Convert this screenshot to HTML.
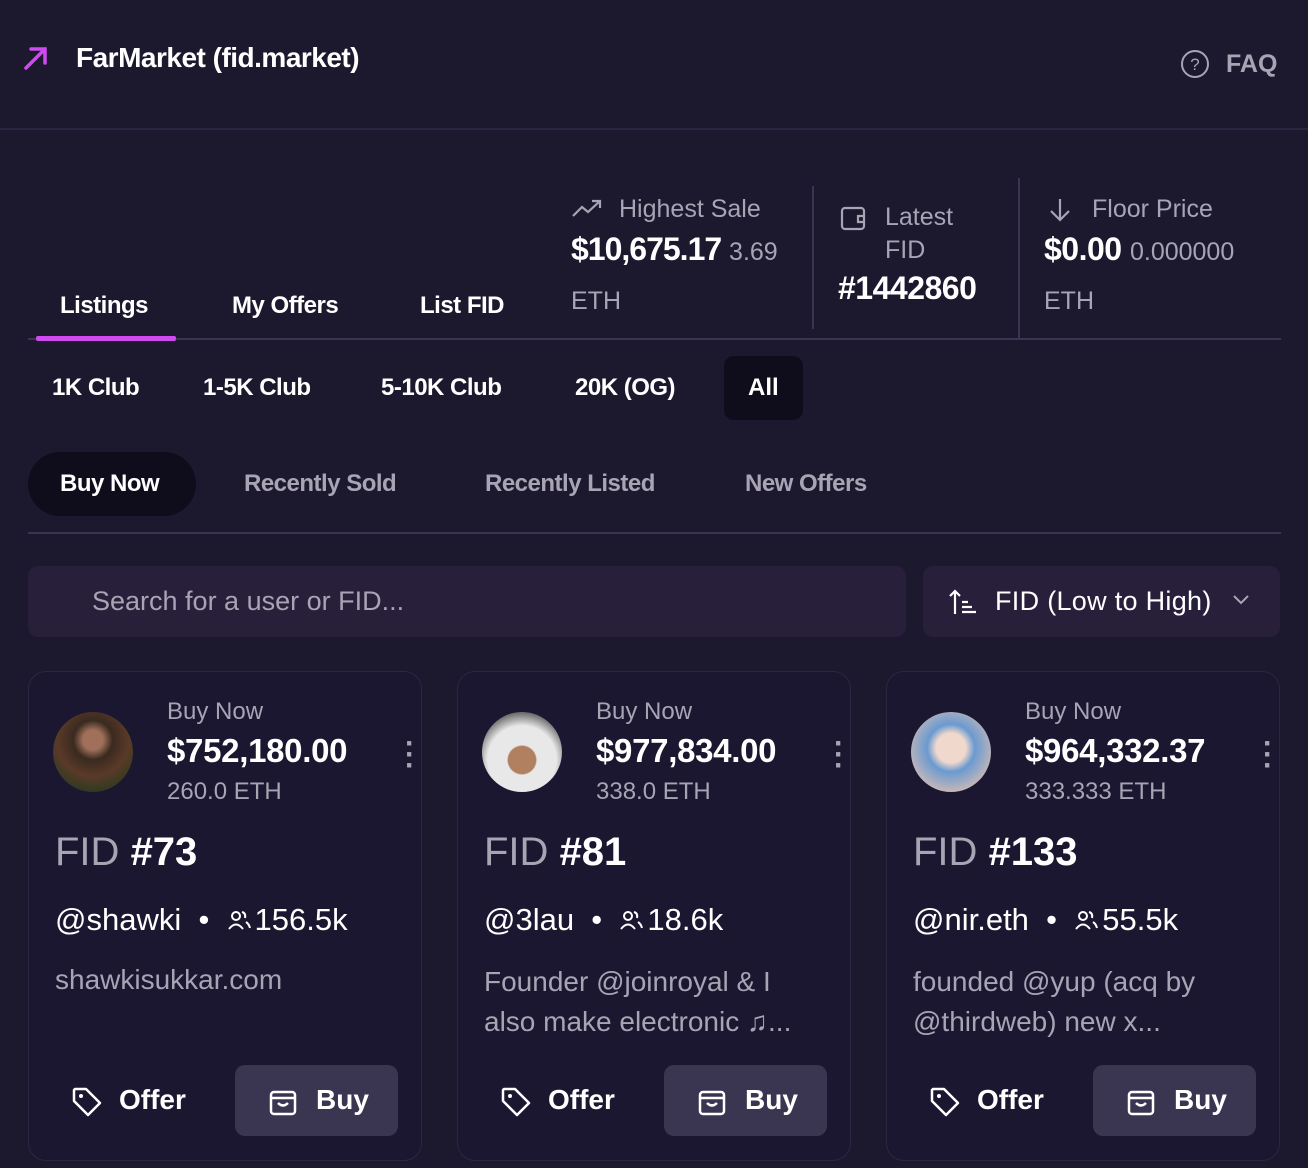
<!DOCTYPE html>
<html><head><meta charset="utf-8"><style>
*{margin:0;padding:0;box-sizing:border-box}
body{width:1308px;height:1168px;background:#1c182e;font-family:"Liberation Sans",sans-serif;color:#fff;position:relative;overflow:hidden}
.a{position:absolute;white-space:nowrap}
.b{font-weight:bold}
.g{color:#a8a4b4}
.card{position:absolute;top:671px;width:394px;height:490px;border:1px solid #2c2740;border-radius:18px;background:#1b1730}
.av{position:absolute;left:24px;top:40px;width:80px;height:80px;border-radius:50%}
.btn{position:absolute;left:206px;top:393px;width:163px;height:71px;background:#3a3550;border-radius:10px}
.pp{display:inline-block;vertical-align:middle;margin:0 4px 4px 0}
</style></head><body>
<svg class="a" style="left:22px;top:44px" width="28" height="28" viewBox="0 0 28 28"><path d="M4 24 L23 5 M9 5 H23 V19" stroke="#d14af0" stroke-width="3.5" fill="none" stroke-linecap="round"/></svg>
<div class="a b" style="left:76px;top:42px;font-size:28px;letter-spacing:-0.5px">FarMarket (fid.market)</div>
<svg class="a" style="left:1180px;top:49px" width="30" height="30" viewBox="0 0 30 30"><circle cx="15" cy="15" r="13" stroke="#a8a4b4" stroke-width="2" fill="none"/><text x="15" y="21" font-size="17" fill="#a8a4b4" text-anchor="middle" font-family="Liberation Sans">?</text></svg>
<div class="a b g" style="left:1226px;top:50px;font-size:25px">FAQ</div>
<div class="a" style="left:0;top:128px;width:1308px;height:2px;background:#2a2540"></div>

<div class="a b" style="left:60px;top:292px;font-size:24px;letter-spacing:-0.5px">Listings</div>
<div class="a b" style="left:232px;top:292px;font-size:24px;letter-spacing:-0.5px">My Offers</div>
<div class="a b" style="left:420px;top:292px;font-size:24px;letter-spacing:-0.5px">List FID</div>

<svg class="a" style="left:571px;top:198px" width="32" height="22" viewBox="0 0 32 22"><path d="M2 18 L11 9 L17 14 L29 3 M21 3 H29 V10" stroke="#a8a4b4" stroke-width="2.2" fill="none"/></svg>
<div class="a g" style="left:619px;top:195px;font-size:25px">Highest Sale</div>
<div class="a b" style="left:571px;top:231px;font-size:32px;letter-spacing:-1px">$10,675.17 <span class="g" style="font-size:25px;font-weight:normal;letter-spacing:0">3.69</span></div>
<div class="a g" style="left:571px;top:287px;font-size:25px">ETH</div>
<div class="a" style="left:812px;top:186px;width:2px;height:143px;background:#3a3550"></div>
<svg class="a" style="left:840px;top:204px" width="28" height="28" viewBox="0 0 28 28"><rect x="2" y="4" width="22" height="21" rx="3" stroke="#a8a4b4" stroke-width="2.2" fill="none"/><path d="M24 12 H18 V18 H24" stroke="#a8a4b4" stroke-width="2.2" fill="none"/></svg>
<div class="a g" style="left:885px;top:203px;font-size:25px">Latest</div>
<div class="a g" style="left:885px;top:236px;font-size:25px">FID</div>
<div class="a b" style="left:838px;top:270px;font-size:32px;letter-spacing:-0.5px">#1442860</div>
<div class="a" style="left:1018px;top:178px;width:2px;height:160px;background:#3a3550"></div>
<svg class="a" style="left:1046px;top:196px" width="28" height="28" viewBox="0 0 28 28"><path d="M14 3 V24 M5 15 L14 24 L23 15" stroke="#a8a4b4" stroke-width="2.2" fill="none"/></svg>
<div class="a g" style="left:1092px;top:195px;font-size:25px">Floor Price</div>
<div class="a b" style="left:1044px;top:231px;font-size:32px;letter-spacing:-0.5px">$0.00 <span class="g" style="font-size:25px;font-weight:normal;letter-spacing:0">0.000000</span></div>
<div class="a g" style="left:1044px;top:287px;font-size:25px">ETH</div>
<div class="a" style="left:28px;top:338px;width:1253px;height:2px;background:#3a3550"></div>
<div class="a" style="left:36px;top:336px;width:140px;height:5px;background:#d14af0;border-radius:2px"></div>

<div class="a b" style="left:52px;top:374px;font-size:24px;letter-spacing:-0.5px">1K Club</div>
<div class="a b" style="left:203px;top:374px;font-size:24px;letter-spacing:-0.5px">1-5K Club</div>
<div class="a b" style="left:381px;top:374px;font-size:24px;letter-spacing:-0.5px">5-10K Club</div>
<div class="a b" style="left:575px;top:374px;font-size:24px;letter-spacing:-0.5px">20K (OG)</div>
<div class="a" style="left:724px;top:356px;width:79px;height:64px;background:#0f0c1c;border-radius:10px"></div>
<div class="a b" style="left:748px;top:374px;font-size:24px">All</div>

<div class="a" style="left:28px;top:452px;width:168px;height:64px;background:#0f0c1c;border-radius:32px"></div>
<div class="a b" style="left:60px;top:470px;font-size:24px;letter-spacing:-0.5px">Buy Now</div>
<div class="a b g" style="left:244px;top:470px;font-size:24px;letter-spacing:-0.5px">Recently Sold</div>
<div class="a b g" style="left:485px;top:470px;font-size:24px;letter-spacing:-0.5px">Recently Listed</div>
<div class="a b g" style="left:745px;top:470px;font-size:24px;letter-spacing:-0.5px">New Offers</div>
<div class="a" style="left:28px;top:532px;width:1253px;height:2px;background:#3a3550"></div>

<div class="a" style="left:28px;top:566px;width:878px;height:71px;background:#281f3b;border-radius:10px"></div>
<div class="a g" style="left:92px;top:586px;font-size:27px">Search for a user or FID...</div>
<div class="a" style="left:923px;top:566px;width:357px;height:71px;background:#281f3b;border-radius:10px"></div>
<svg class="a" style="left:948px;top:588px" width="30" height="28" viewBox="0 0 30 28"><path d="M7 26 V3 M2 8 L7 3 L12 8 M14 14 H20 M14 19 H24 M14 24 H28" stroke="#fff" stroke-width="2.2" fill="none"/></svg>
<div class="a" style="left:995px;top:586px;font-size:27px;letter-spacing:0.3px">FID (Low to High)</div>
<svg class="a" style="left:1232px;top:594px" width="18" height="12" viewBox="0 0 18 12"><path d="M2 2 L9 9 L16 2" stroke="#a8a4b4" stroke-width="2" fill="none"/></svg>

<!-- cards -->
<div class="card" style="left:28px">
<div class="av" style="background:radial-gradient(circle at 50% 35%,#a0705a 0 15%,#3a2a20 30%,#5a3a28 55%,#2e3a20 80%)"></div>
<div class="a g" style="left:138px;top:26px;font-size:24px">Buy Now</div>
<div class="a b" style="left:138px;top:60px;font-size:33px;letter-spacing:-0.3px">$752,180.00</div>
<div class="a g" style="left:138px;top:106px;font-size:24px">260.0 ETH</div>
<div class="a g b" style="left:376px;top:66px;font-size:30px;line-height:11px">·<br>·<br>·</div>
<div class="a" style="left:26px;top:158px;font-size:40px"><span class="g">FID</span> <b>#73</b></div>
<div class="a" style="left:26px;top:230px;font-size:31px">@shawki &nbsp;•&nbsp; <svg class="pp" width="24" height="22" viewBox="0 0 24 22"><circle cx="9" cy="7" r="4" stroke="#fff" stroke-width="2" fill="none"/><path d="M2 20 Q9 11 16 20 M15 3 Q19 4 18 9 M19 13 Q22 15 23 19" stroke="#fff" stroke-width="2" fill="none"/></svg>156.5k</div>
<div class="a g" style="left:26px;top:292px;font-size:28px">shawkisukkar.com</div>
<svg class="a" style="left:42px;top:414px" width="32" height="32" viewBox="0 0 32 32"><path d="M3 4 V15 L17 29 L29 17 L15 3 H4 Z" stroke="#fff" stroke-width="2.5" fill="none" stroke-linejoin="round"/><circle cx="10" cy="10" r="2" fill="#fff"/></svg>
<div class="a b" style="left:90px;top:412px;font-size:28px">Offer</div>
<div class="btn"></div>
<svg class="a" style="left:240px;top:414px" width="28" height="30" viewBox="0 0 28 30"><rect x="2" y="6" width="24" height="22" rx="3" stroke="#fff" stroke-width="2.5" fill="none"/><path d="M2 12 H26 M9 17 Q14 22 19 17" stroke="#fff" stroke-width="2.5" fill="none"/></svg>
<div class="a b" style="left:287px;top:412px;font-size:28px">Buy</div>
</div>

<div class="card" style="left:457px">
<div class="av" style="background:radial-gradient(circle at 50% 60%,#b08060 0 22%,#e8e8e8 24% 55%,#707070 75%)"></div>
<div class="a g" style="left:138px;top:26px;font-size:24px">Buy Now</div>
<div class="a b" style="left:138px;top:60px;font-size:33px;letter-spacing:-0.3px">$977,834.00</div>
<div class="a g" style="left:138px;top:106px;font-size:24px">338.0 ETH</div>
<div class="a g b" style="left:376px;top:66px;font-size:30px;line-height:11px">·<br>·<br>·</div>
<div class="a" style="left:26px;top:158px;font-size:40px"><span class="g">FID</span> <b>#81</b></div>
<div class="a" style="left:26px;top:230px;font-size:31px">@3lau &nbsp;•&nbsp; <svg class="pp" width="24" height="22" viewBox="0 0 24 22"><circle cx="9" cy="7" r="4" stroke="#fff" stroke-width="2" fill="none"/><path d="M2 20 Q9 11 16 20 M15 3 Q19 4 18 9 M19 13 Q22 15 23 19" stroke="#fff" stroke-width="2" fill="none"/></svg>18.6k</div>
<div class="a g" style="left:26px;top:290px;font-size:28px;line-height:40px">Founder @joinroyal &amp; I<br>also make electronic ♫...</div>
<svg class="a" style="left:42px;top:414px" width="32" height="32" viewBox="0 0 32 32"><path d="M3 4 V15 L17 29 L29 17 L15 3 H4 Z" stroke="#fff" stroke-width="2.5" fill="none" stroke-linejoin="round"/><circle cx="10" cy="10" r="2" fill="#fff"/></svg>
<div class="a b" style="left:90px;top:412px;font-size:28px">Offer</div>
<div class="btn"></div>
<svg class="a" style="left:240px;top:414px" width="28" height="30" viewBox="0 0 28 30"><rect x="2" y="6" width="24" height="22" rx="3" stroke="#fff" stroke-width="2.5" fill="none"/><path d="M2 12 H26 M9 17 Q14 22 19 17" stroke="#fff" stroke-width="2.5" fill="none"/></svg>
<div class="a b" style="left:287px;top:412px;font-size:28px">Buy</div>
</div>

<div class="card" style="left:886px">
<div class="av" style="background:radial-gradient(circle at 50% 45%,#f0d8cc 0 25%,#6a9ad0 40%,#c8b8b8 75%)"></div>
<div class="a g" style="left:138px;top:26px;font-size:24px">Buy Now</div>
<div class="a b" style="left:138px;top:60px;font-size:33px;letter-spacing:-0.3px">$964,332.37</div>
<div class="a g" style="left:138px;top:106px;font-size:24px">333.333 ETH</div>
<div class="a g b" style="left:376px;top:66px;font-size:30px;line-height:11px">·<br>·<br>·</div>
<div class="a" style="left:26px;top:158px;font-size:40px"><span class="g">FID</span> <b>#133</b></div>
<div class="a" style="left:26px;top:230px;font-size:31px">@nir.eth &nbsp;•&nbsp; <svg class="pp" width="24" height="22" viewBox="0 0 24 22"><circle cx="9" cy="7" r="4" stroke="#fff" stroke-width="2" fill="none"/><path d="M2 20 Q9 11 16 20 M15 3 Q19 4 18 9 M19 13 Q22 15 23 19" stroke="#fff" stroke-width="2" fill="none"/></svg>55.5k</div>
<div class="a g" style="left:26px;top:290px;font-size:28px;line-height:40px">founded @yup (acq by<br>@thirdweb) new x...</div>
<svg class="a" style="left:42px;top:414px" width="32" height="32" viewBox="0 0 32 32"><path d="M3 4 V15 L17 29 L29 17 L15 3 H4 Z" stroke="#fff" stroke-width="2.5" fill="none" stroke-linejoin="round"/><circle cx="10" cy="10" r="2" fill="#fff"/></svg>
<div class="a b" style="left:90px;top:412px;font-size:28px">Offer</div>
<div class="btn"></div>
<svg class="a" style="left:240px;top:414px" width="28" height="30" viewBox="0 0 28 30"><rect x="2" y="6" width="24" height="22" rx="3" stroke="#fff" stroke-width="2.5" fill="none"/><path d="M2 12 H26 M9 17 Q14 22 19 17" stroke="#fff" stroke-width="2.5" fill="none"/></svg>
<div class="a b" style="left:287px;top:412px;font-size:28px">Buy</div>
</div>
</body></html>
